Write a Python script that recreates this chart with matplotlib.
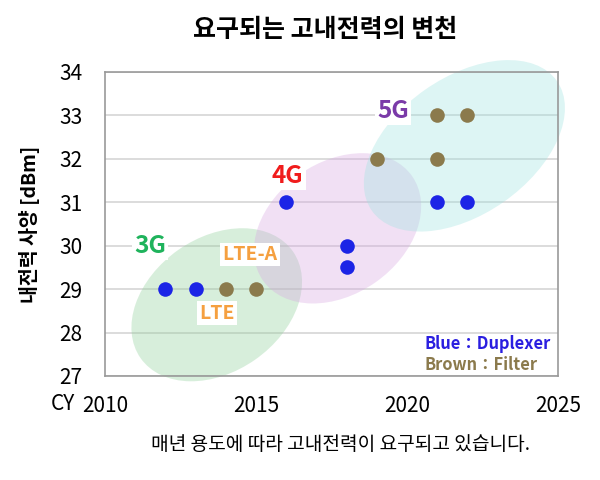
import matplotlib.pyplot as plt
from matplotlib.patches import Ellipse
from matplotlib.transforms import ScaledTranslation

plt.rcParams['font.family'] = ['Noto Sans CJK KR', 'DejaVu Sans']

# duplexer (blue) and filter (brown) requirements
dup_year = [2012, 2013, 2016, 2018, 2018, 2021, 2022]
dup_dbm = [29, 29, 31, 30, 29.5, 31, 31]
fil_year = [2014, 2015, 2019, 2021, 2021, 2022]
fil_dbm = [29, 29, 32, 32, 33, 33]

# generation groups: centre (year, dBm), size in inches, angle, colour
gen_centres = [(2013.7, 28.64), (2017.7, 30.4), (2021.9, 32.3)]
gen_sizes = [(1.86, 1.34), (1.82, 1.32), (2.26, 1.37)]
gen_angles = [35, 35, 35]
gen_colours = ['#8fd09a', '#d8a8e2', '#9fe3e0']

fig = plt.figure(figsize=(6, 4.8), dpi=100)
ax = fig.add_axes([0.175, 0.2167, 0.755, 0.6333])

for (cx, cy), (w, h), ang, col in zip(gen_centres, gen_sizes, gen_angles, gen_colours):
    tr = fig.dpi_scale_trans + ScaledTranslation(cx, cy, ax.transData)
    ax.add_patch(Ellipse((0, 0), w, h, angle=ang, transform=tr, clip_on=False,
                         facecolor=col, alpha=0.35, edgecolor='none', zorder=1))

ax.scatter(dup_year, dup_dbm, s=110, color='#1c24e6', zorder=3, linewidths=0)
ax.scatter(fil_year, fil_dbm, s=110, color='#8b7a4c', zorder=3, linewidths=0)

box = dict(facecolor='white', edgecolor='none', pad=1.5)
ax.text(2011.5, 30.0, '3G', color='#1fb35c', fontsize=17.5, fontweight='bold',
        ha='center', va='center', bbox=box, zorder=2)
ax.text(2016.05, 31.6, '4G', color='#f01c1c', fontsize=17.5, fontweight='bold',
        ha='center', va='center', bbox=box, zorder=2)
ax.text(2019.55, 33.1, '5G', color='#7a3aa8', fontsize=17.5, fontweight='bold',
        ha='center', va='center', bbox=box, zorder=2)
ax.text(2014.8, 29.8, 'LTE-A', color='#f5a040', fontsize=14, fontweight='bold',
        ha='center', va='center', bbox=box, zorder=2)
ax.text(2013.7, 28.45, 'LTE', color='#f5a040', fontsize=14, fontweight='bold',
        ha='center', va='center', bbox=box, zorder=2)

ax.text(0.985, 0.105, 'Blue：Duplexer', color='#2a1ee0', fontsize=11.8,
        fontweight='bold', ha='right', va='center', transform=ax.transAxes)
ax.text(0.955, 0.035, 'Brown：Filter', color='#8b7a4c', fontsize=11.8,
        fontweight='bold', ha='right', va='center', transform=ax.transAxes)

ax.set_xlim(2010, 2025)
ax.set_ylim(27, 34)
ax.set_xticks([2010, 2015, 2020, 2025])
ax.set_xticklabels(['2010', '2015', '2020', '2025'])
ax.set_yticks(range(27, 35))
ax.tick_params(axis='x', length=0, labelsize=15, pad=14)
ax.tick_params(axis='y', length=0, labelsize=15, pad=16)
for t in ax.get_xticklabels() + ax.get_yticklabels():
    t.set_fontweight('medium')
ax.text(-0.093, -0.092, 'CY', fontsize=15, fontweight='medium', ha='center',
        va='center', transform=ax.transAxes)
ax.grid(axis='y', color='#d9d9d9', linewidth=1.3)
ax.set_axisbelow(True)
for sp in ax.spines.values():
    sp.set_color('#999999')
    sp.set_linewidth(1.2)

ax.set_ylabel('내전력 사양 [dBm]', fontsize=14, fontweight='bold', labelpad=14)
fig.text(0.542, 0.937, '요구되는 고내전력의 변천', fontsize=18, fontweight='bold',
         ha='center', va='center')
fig.text(0.568, 0.073, '매년 용도에 따라 고내전력이 요구되고 있습니다.', fontsize=13.8,
         ha='center', va='center')

fig.savefig('out.png', dpi=100)
